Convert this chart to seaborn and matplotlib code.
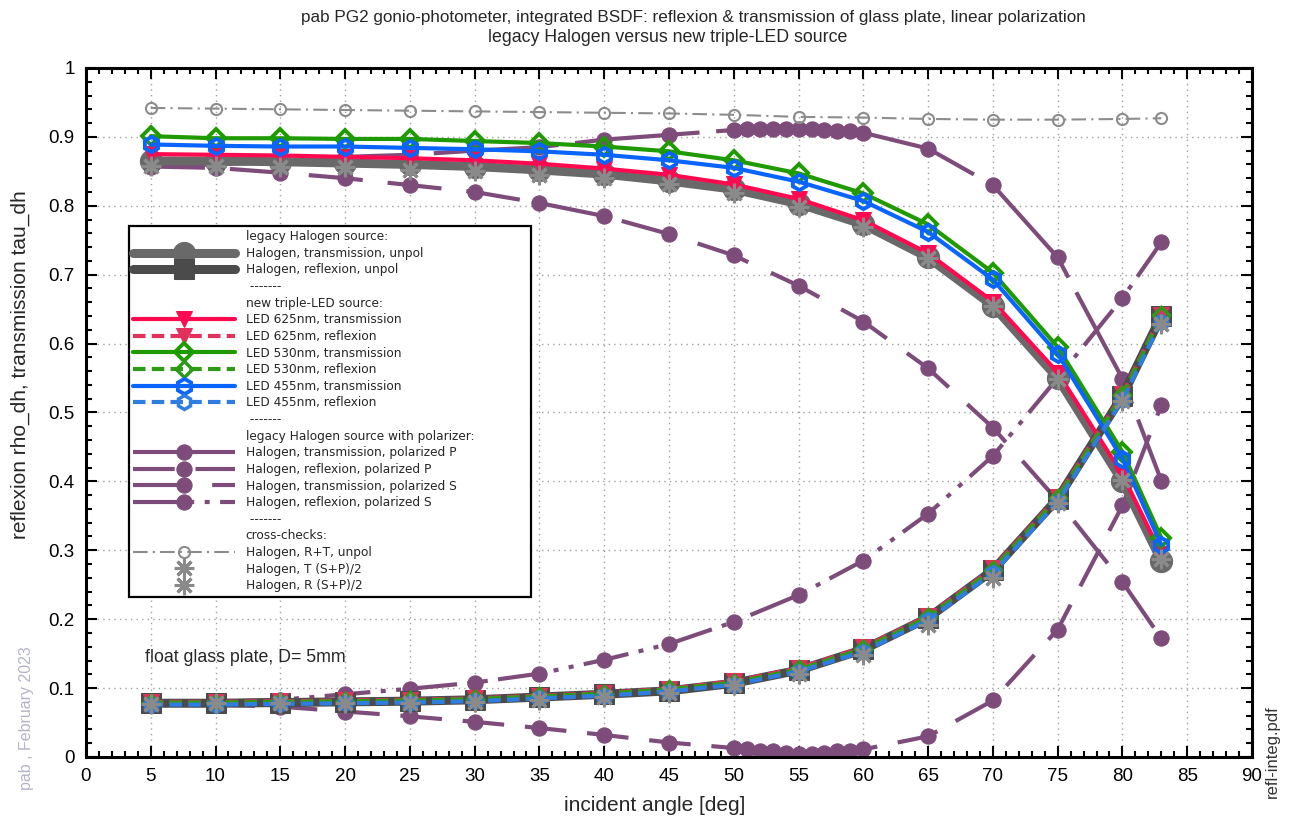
import numpy as np
import pandas as pd
import seaborn as sns
import matplotlib.pyplot as plt
from matplotlib.lines import Line2D
from matplotlib.ticker import MultipleLocator, FuncFormatter

# incident angles [deg]
angles = [5, 10, 15, 20, 25, 30, 35, 40, 45, 50, 55, 60, 65, 70, 75, 80, 83]
angles_pol = [5, 10, 15, 20, 25, 30, 35, 40, 45,
              50, 51, 52, 53, 54, 55, 56, 57, 58, 59, 60,
              65, 70, 75, 80, 83]

# legacy Halogen, unpolarized
halo_trans = [0.865, 0.865, 0.864, 0.862, 0.860, 0.857, 0.852, 0.846, 0.836,
              0.824, 0.803, 0.773, 0.725, 0.655, 0.550, 0.400, 0.285]
halo_refl = [0.078, 0.078, 0.079, 0.080, 0.081, 0.083, 0.087, 0.091, 0.096,
             0.107, 0.126, 0.156, 0.202, 0.271, 0.375, 0.524, 0.640]

# new triple-LED source
led625_trans = [0.875, 0.874, 0.873, 0.871, 0.869, 0.866, 0.861, 0.854, 0.845,
                0.831, 0.810, 0.779, 0.731, 0.661, 0.558, 0.410, 0.294]
led625_refl = [0.080, 0.080, 0.081, 0.082, 0.083, 0.085, 0.089, 0.093, 0.099,
               0.110, 0.129, 0.159, 0.205, 0.274, 0.378, 0.527, 0.642]
led530_trans = [0.901, 0.898, 0.898, 0.897, 0.897, 0.894, 0.891, 0.886, 0.879,
                0.866, 0.847, 0.818, 0.773, 0.703, 0.595, 0.443, 0.318]
led530_refl = [0.079, 0.079, 0.080, 0.081, 0.082, 0.084, 0.088, 0.092, 0.098,
               0.108, 0.127, 0.157, 0.203, 0.272, 0.376, 0.525, 0.641]
led455_trans = [0.889, 0.887, 0.886, 0.886, 0.884, 0.882, 0.879, 0.874, 0.866,
                0.855, 0.835, 0.807, 0.762, 0.693, 0.585, 0.433, 0.308]
led455_refl = [0.076, 0.076, 0.077, 0.078, 0.079, 0.081, 0.085, 0.089, 0.095,
               0.105, 0.124, 0.153, 0.199, 0.267, 0.370, 0.518, 0.632]

# legacy Halogen with polarizer
pol_trans_p = [0.858, 0.860, 0.864, 0.871, 0.874, 0.880, 0.885, 0.896, 0.903,
               0.910, 0.911, 0.911, 0.911, 0.911, 0.911, 0.911, 0.910, 0.909, 0.908, 0.906,
               0.883, 0.830, 0.725, 0.549, 0.401]
pol_refl_p = [0.076, 0.076, 0.073, 0.066, 0.059, 0.051, 0.042, 0.032, 0.021,
              0.013, 0.011, 0.009, 0.008, 0.006, 0.005, 0.005, 0.006, 0.008, 0.009, 0.011,
              0.030, 0.082, 0.185, 0.365, 0.511]
pol_trans_s = [0.857, 0.855, 0.848, 0.840, 0.830, 0.820, 0.804, 0.785, 0.759,
               0.728, 0.684, 0.632, 0.564, 0.478, 0.372, 0.254, 0.172]
pol_refl_s = [0.077, 0.080, 0.083, 0.091, 0.099, 0.108, 0.121, 0.141, 0.164,
              0.196, 0.235, 0.285, 0.353, 0.437, 0.550, 0.666, 0.747]

# cross-checks
halo_sum = [0.942, 0.941, 0.940, 0.939, 0.938, 0.937, 0.936, 0.935, 0.934,
            0.932, 0.929, 0.928, 0.926, 0.925, 0.925, 0.926, 0.927]
halo_trans_sp = [0.858, 0.858, 0.856, 0.856, 0.852, 0.850, 0.845, 0.841, 0.831,
                 0.819, 0.798, 0.769, 0.724, 0.654, 0.549, 0.402, 0.287]
halo_refl_sp = [0.077, 0.078, 0.078, 0.079, 0.079, 0.080, 0.082, 0.087, 0.093,
                0.105, 0.120, 0.148, 0.192, 0.260, 0.368, 0.516, 0.629]

sns.set_theme(style='ticks')
plt.rcParams['font.family'] = ['Liberation Sans', 'DejaVu Sans']

fig = plt.figure(figsize=(12.91, 8.18), dpi=100)
ax = fig.add_axes([0.0666, 0.0746, 0.9032, 0.8423])

purple = '#7e4c7a'
asterisk = (8, 2, 0)


def draw(x, y, label, zorder, **kw):
    df = pd.DataFrame({'angle': x, 'value': y})
    sns.lineplot(data=df, x='angle', y='value', ax=ax, zorder=zorder, sort=False, **kw)
    line = ax.lines[-1]
    line.set_label(label)
    return line


h = {}
# polarized measurements (drawn underneath)
h['tp'] = draw(angles_pol, pol_trans_p, 'Halogen, transmission, polarized P', 2,
               color=purple, lw=3, linestyle=(0, (30, 4)), marker='o', ms=11, mec=purple)
h['rp'] = draw(angles_pol, pol_refl_p, 'Halogen, reflexion, polarized P', 2,
               color=purple, lw=3, linestyle=(0, (10, 5)), marker='o', ms=11, mec=purple)
h['ts'] = draw(angles, pol_trans_s, 'Halogen, transmission, polarized S', 2,
               color=purple, lw=3, linestyle=(0, (13, 6)), marker='o', ms=11, mec=purple)
h['rs'] = draw(angles, pol_refl_s, 'Halogen, reflexion, polarized S', 2,
               color=purple, lw=3, linestyle=(0, (11, 2.5, 1.2, 2.5, 1.2, 2.5)),
               marker='o', ms=11, mec=purple)

# legacy Halogen unpolarized
h['ht'] = draw(angles, halo_trans, 'Halogen, transmission, unpol', 3,
               color='#696969', lw=6.5, marker='o', ms=16, mec='#696969')
h['hr'] = draw(angles, halo_refl, 'Halogen, reflexion, unpol', 3,
               color='#4b4b4b', lw=6.5, marker='s', ms=15, mec='#4b4b4b')

# LEDs
h['r_t'] = draw(angles, led625_trans, 'LED 625nm, transmission', 4,
                color='#ff0a50', lw=3, marker='v', ms=12, mec='#ff0a50')
h['r_r'] = draw(angles, led625_refl, 'LED 625nm, reflexion', 4,
                color='#e2305c', lw=3, linestyle=(0, (3, 1.5)), marker='v', ms=11, mec='#e2305c')
h['g_t'] = draw(angles, led530_trans, 'LED 530nm, transmission', 4,
                color='#1f9a00', lw=3, marker='D', ms=9, mfc='none', mec='#1f9a00', mew=2.8)
h['g_r'] = draw(angles, led530_refl, 'LED 530nm, reflexion', 4,
                color='#2e9a18', lw=3, linestyle=(0, (3, 1.5)), marker='D', ms=8,
                mfc='none', mec='#2e9a18', mew=2.5)
h['b_t'] = draw(angles, led455_trans, 'LED 455nm, transmission', 4,
                color='#0a64ff', lw=3, marker='h', ms=11, mfc='none', mec='#0a64ff', mew=2.8)
h['b_r'] = draw(angles, led455_refl, 'LED 455nm, reflexion', 4,
                color='#2f7de0', lw=3, linestyle=(0, (3, 1.5)), marker='h', ms=10,
                mfc='none', mec='#2f7de0', mew=2.5)

# cross-checks
h['sum'] = draw(angles, halo_sum, 'Halogen, R+T, unpol', 5,
                color='#8c8c8c', lw=1.5, linestyle=(0, (7, 2.5, 1, 2.5)), marker='o', ms=8,
                mfc='none', mec='#8c8c8c', mew=1.5)
h['tsp'] = draw(angles, halo_trans_sp, 'Halogen, T (S+P)/2', 5,
                color='#8a8a8a', linestyle='none', marker=asterisk, ms=14, mew=2.2, mec='#8a8a8a')
h['rsp'] = draw(angles, halo_refl_sp, 'Halogen, R (S+P)/2', 5,
                color='#8a8a8a', linestyle='none', marker=asterisk, ms=14, mew=2.2, mec='#8a8a8a')

# axes, ticks, grid
ax.set_xlim(0, 90)
ax.set_ylim(0, 1)
ax.xaxis.set_major_locator(MultipleLocator(5))
ax.xaxis.set_minor_locator(MultipleLocator(1))
ax.yaxis.set_major_locator(MultipleLocator(0.1))
ax.yaxis.set_minor_locator(MultipleLocator(0.02))
ax.yaxis.set_major_formatter(FuncFormatter(lambda v, p: f'{v:g}'))
ax.tick_params(which='both', direction='in', top=True, right=True, width=1.5, colors='black',
               labelsize=13.5, pad=8)
ax.tick_params(which='major', length=8)
ax.tick_params(which='minor', length=4)
ax.grid(True, which='major', color='#a0a0a0', lw=1, linestyle=(0, (1, 3)))
for s in ax.spines.values():
    s.set_linewidth(2.2)
    s.set_color('black')
ax.set_xlabel('incident angle [deg]', fontsize=15)
ax.xaxis.set_label_coords((655 - 86) / 1166, -(796 - 757) / 689)
ax.set_ylabel('reflexion rho_dh, transmission tau_dh', fontsize=15)
ax.yaxis.set_label_coords((30 - 86) / 1166, (757 - 365) / 689)

fig.text(693 / 1291, 0.978, 'pab PG2 gonio-photometer, integrated BSDF: reflexion & transmission of glass plate, linear polarization',
         ha='center', va='center', fontsize=12.3)
fig.text(668 / 1291, 0.954, 'legacy Halogen versus new triple-LED source', ha='center', va='center', fontsize=12.8)
fig.text(145 / 1291, 1 - 657 / 818, 'float glass plate, D= 5mm', ha='left', va='center', fontsize=12.8)
fig.text(27 / 1291, 1 - 718 / 818, 'pab , February 2023', rotation=90, ha='center', va='center',
         fontsize=11.5, color='#b4b4c8')
fig.text(1272 / 1291, 1 - 752 / 818, 'refl-integ.pdf', rotation=90, ha='center', va='center',
         fontsize=12, color='#333333')

# legend with section headings
blank = Line2D([], [], linestyle='none', marker='none')
handles = [blank, h['ht'], h['hr'], blank,
           blank, h['r_t'], h['r_r'], h['g_t'], h['g_r'], h['b_t'], h['b_r'], blank,
           blank, h['tp'], h['rp'], h['ts'], h['rs'], blank,
           blank, h['sum'], h['tsp'], h['rsp']]
labels = ['legacy Halogen source:', 'Halogen, transmission, unpol', 'Halogen, reflexion, unpol', ' -------',
          'new triple-LED source:', 'LED 625nm, transmission', 'LED 625nm, reflexion',
          'LED 530nm, transmission', 'LED 530nm, reflexion',
          'LED 455nm, transmission', 'LED 455nm, reflexion', ' -------',
          'legacy Halogen source with polarizer:', 'Halogen, transmission, polarized P',
          'Halogen, reflexion, polarized P', 'Halogen, transmission, polarized S',
          'Halogen, reflexion, polarized S', ' -------',
          'cross-checks:', 'Halogen, R+T, unpol', 'Halogen, T (S+P)/2', 'Halogen, R (S+P)/2']
x0 = (129 - 86) / 1166
w = (531 - 129) / 1166
y1 = (757 - 226) / 689
leg = ax.legend(handles, labels, loc='upper left', bbox_to_anchor=(x0, y1 - 0.6, w, 0.6),
                mode='expand', borderaxespad=0, fancybox=False, framealpha=1,
                edgecolor='black', handlelength=8.4, handletextpad=0.9, labelspacing=0.3,
                borderpad=0.35, prop={'family': 'DejaVu Sans', 'size': 8.7})
leg.get_frame().set_linewidth(1.6)
leg.set_zorder(10)

plt.savefig('out.png', dpi=100)
